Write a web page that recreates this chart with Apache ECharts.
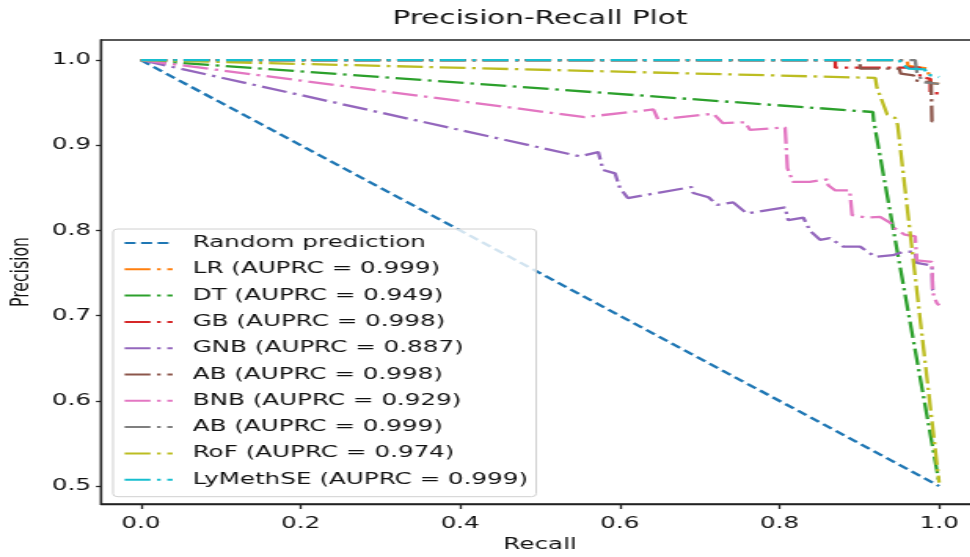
<!DOCTYPE html>
<html>
    <head>
        <meta charset="utf-8">
        <title>Precision-Recall Plot</title>
        <script src="https://cdn.jsdelivr.net/npm/echarts@6/dist/echarts.min.js"></script>
        <style>
            body { margin: 0; overflow: hidden; background: #fff; }
        </style>
    </head>
    <body>
        <div id="main"></div>

        <script type="text/javascript">
            // the picture is wider than tall in its text, so draw narrow and stretch
            var S = 1.57;

            // recall / precision pairs
            var randomCurve = [[0, 1], [1, 0.5]];
            var lrCurve = [[0, 1], [0.96, 1], [0.961, 0.993], [0.985, 0.990], [0.99, 0.973], [1, 0.972]];
            var dtCurve = [[0, 1], [0.917, 0.939], [0.918, 0.929], [1, 0.504]];
            var gbCurve = [[0, 1], [0.87, 1], [0.87, 0.991], [0.976, 0.991], [0.976, 0.980], [0.989, 0.978], [0.989, 0.961], [1, 0.961]];
            var gnbCurve = [[0, 1], [0.550, 0.887], [0.573, 0.892], [0.579, 0.871], [0.594, 0.867], [0.600, 0.850],
                [0.610, 0.838], [0.690, 0.851], [0.692, 0.844], [0.711, 0.839], [0.722, 0.830], [0.742, 0.833],
                [0.759, 0.820], [0.807, 0.827], [0.811, 0.812], [0.830, 0.815], [0.838, 0.800], [0.851, 0.789],
                [0.863, 0.791], [0.880, 0.781], [0.901, 0.781], [0.920, 0.769], [0.942, 0.771], [0.955, 0.775],
                [0.970, 0.775], [0.972, 0.762], [0.991, 0.759], [0.992, 0.730], [1, 0.730]];
            var abCurve = [[0, 1], [0.901, 1], [0.901, 0.990], [0.95, 0.990], [0.952, 0.984], [0.968, 0.982],
                [0.97, 0.976], [0.99, 0.974], [0.991, 0.928], [1, 0.928]];
            var bnbCurve = [[0, 1], [0.556, 0.933], [0.642, 0.942], [0.648, 0.930], [0.717, 0.937], [0.729, 0.926],
                [0.757, 0.927], [0.763, 0.918], [0.807, 0.921], [0.810, 0.873], [0.817, 0.857], [0.838, 0.857],
                [0.860, 0.860], [0.861, 0.853], [0.870, 0.847], [0.888, 0.847], [0.891, 0.818], [0.910, 0.815],
                [0.926, 0.816], [0.939, 0.809], [0.942, 0.804], [0.957, 0.795], [0.970, 0.793], [0.972, 0.765],
                [0.991, 0.763], [0.992, 0.727], [0.997, 0.715], [1, 0.712]];
            var ab2Curve = [[0, 1], [0.97, 1], [0.972, 0.986], [0.98, 0.974], [1, 0.972]];
            var rofCurve = [[0, 1], [0.920, 0.979], [0.922, 0.968], [0.935, 0.936], [0.945, 0.932], [0.948, 0.924], [1, 0.504]];
            var lyCurve = [[0, 1], [0.95, 1], [0.953, 0.995], [0.962, 0.990], [0.982, 0.989], [0.985, 0.983], [1, 0.980]];

            var names = ['Random prediction', 'LR (AUPRC = 0.999)', 'DT (AUPRC = 0.949)', 'GB (AUPRC = 0.998)',
                'GNB (AUPRC = 0.887)', 'AB (AUPRC = 0.998)', 'BNB (AUPRC = 0.929)', 'AB (AUPRC = 0.999)',
                'RoF (AUPRC = 0.974)', 'LyMethSE (AUPRC = 0.999)'];
            var curves = [randomCurve, lrCurve, dtCurve, gbCurve, gnbCurve, abCurve, bnbCurve, ab2Curve, rofCurve, lyCurve];
            var colors = ['#1f77b4', '#ff7f0e', '#2ca02c', '#d62728', '#9467bd', '#8c564b', '#e377c2', '#7f7f7f', '#bcbd22', '#17becf'];

            var xTicks = [0, 0.2, 0.4, 0.6, 0.8, 1.0];
            var yTicks = [0.5, 0.6, 0.7, 0.8, 0.9, 1.0];

            var box = document.getElementById('main');
            box.style.width = (970 / S) + 'px';
            box.style.height = '557px';
            box.style.transform = 'scaleX(' + S + ')';
            box.style.transformOrigin = '0 0';

            var font = 'DejaVu Sans';
            var series = [];
            for (var i = 0; i < curves.length; i++) {
                series.push({
                    name: names[i],
                    type: 'line',
                    data: curves[i],
                    symbol: 'none',
                    lineStyle: {
                        color: colors[i],
                        width: 2.3,
                        type: i == 0 ? [7, 3.5] : [16.5, 4.2, 2.3, 4.2]
                    },
                    itemStyle: { color: colors[i] }
                });
            }

            var myChart = echarts.init(box);
            var option = {
                animation: false,
                title: {
                    text: 'Precision-Recall Plot',
                    left: 540 / S,
                    top: 10,
                    padding: 0,
                    textAlign: 'center',
                    textStyle: { fontFamily: font, fontSize: 18.8, fontWeight: 'normal', color: '#111' }
                },
                legend: {
                    orient: 'vertical',
                    left: 113 / S,
                    top: 229,
                    data: names,
                    itemWidth: 48 / S,
                    itemHeight: 14,
                    itemGap: 10.3,
                    padding: [6, 8 / S, 9, 10 / S],
                    backgroundColor: 'rgba(255,255,255,0.8)',
                    borderColor: '#d0d0d0',
                    borderWidth: 1,
                    borderRadius: 3,
                    itemStyle: { color: 'transparent', borderWidth: 0, opacity: 0 },
                    textStyle: { fontFamily: font, fontSize: 15.7, color: '#111', padding: [0, 0, 0, 20 / S - 5] }
                },
                grid: {
                    left: 101 / S,
                    top: 40,
                    width: 878 / S,
                    height: 464,
                    outerBoundsMode: 'none',
                    containLabel: false,
                    show: true,
                    borderColor: '#222',
                    borderWidth: 1.3
                },
                xAxis: {
                    type: 'value',
                    min: -0.05,
                    max: 1.05,
                    name: 'Recall',
                    nameLocation: 'middle',
                    nameGap: 33,
                    nameTextStyle: { fontFamily: font, fontSize: 15.7, color: '#111' },
                    splitLine: { show: false },
                    axisLine: { onZero: false, lineStyle: { color: '#222', width: 1.3 } },
                    axisTick: { customValues: xTicks, length: 5, lineStyle: { color: '#222', width: 1.3 } },
                    axisLabel: {
                        customValues: xTicks,
                        margin: 12,
                        fontFamily: font,
                        fontSize: 15.7,
                        color: '#111',
                        formatter: function (v) { return v.toFixed(1); }
                    }
                },
                yAxis: {
                    type: 'value',
                    min: 0.479,
                    max: 1.0235,
                    name: 'Precision',
                    nameLocation: 'middle',
                    nameGap: 42,
                    nameTextStyle: { fontFamily: font, fontSize: 15.7, color: '#111' },
                    splitLine: { show: false },
                    axisLine: { onZero: false, lineStyle: { color: '#222', width: 1.3 } },
                    axisTick: { customValues: yTicks, length: 5 / S, lineStyle: { color: '#222', width: 1.3 } },
                    axisLabel: {
                        customValues: yTicks,
                        margin: 10 / S,
                        fontFamily: font,
                        fontSize: 15.7,
                        color: '#111',
                        formatter: function (v) { return v.toFixed(1); }
                    }
                },
                series: series
            };
            myChart.setOption(option);
        </script>
    </body>
</html>
